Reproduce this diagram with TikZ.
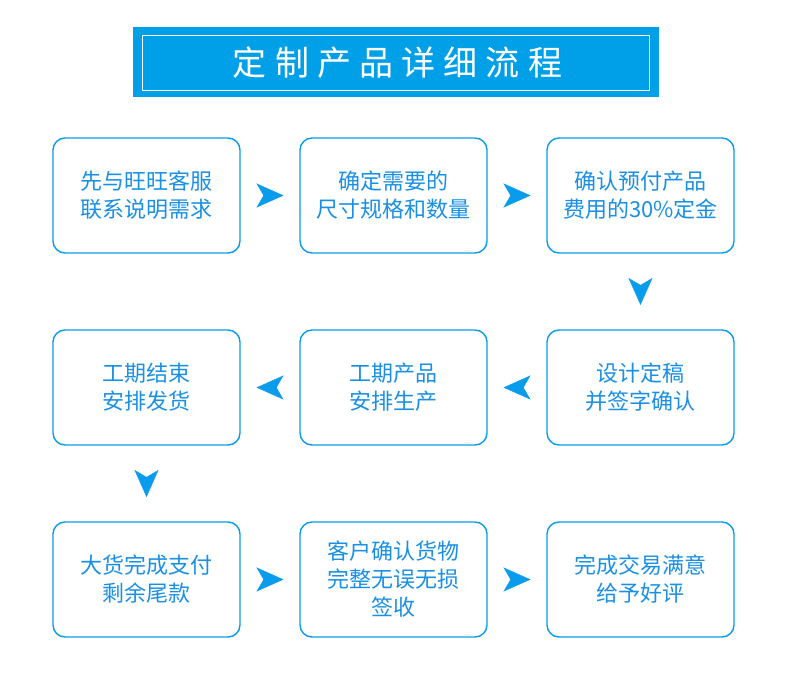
\documentclass[tikz,border=0pt]{standalone}
\usepackage{fontspec}
\setmainfont{Noto Sans CJK SC}
\usepackage{tikz}
\usepackage{xcolor}
\usetikzlibrary{positioning, arrows.meta}
\definecolor{accent}{HTML}{0A9CEC}
\definecolor{titlebg}{HTML}{00A0E9}
\definecolor{textmain}{HTML}{1A90E4}
\definecolor{bg}{HTML}{FFFFFF}

\begin{document}
\begin{tikzpicture}[
    x=1pt, y=1pt,
    stepbox/.style={rectangle, draw=accent, fill=bg, text=textmain, line width=1.4pt,
                  rounded corners=12pt, minimum width=187pt, minimum height=115pt,
                  align=center, font=\fontsize{22}{28}\selectfont, inner sep=0pt, outer sep=0pt},
    flow/.style={-{Stealth[length=27pt, width=24pt, inset=7pt]}, line width=0.4pt, accent},
    hflow/.style={flow, shorten <=23.5pt, shorten >=16.5pt},
    vflow/.style={flow, shorten <=32pt, shorten >=25pt},
    titlebar/.style={rectangle, fill=titlebg, text=white, minimum width=526pt,
                  minimum height=70pt, inner sep=0pt,
                  font=\fontsize{34}{40}\selectfont\addfontfeature{LetterSpace=24}}
  ]
    \useasboundingbox[fill=bg] (0,0) rectangle (790,-698);

    % title
    \node[titlebar] (title) at (395.5,-62.5) {\hspace{4pt}定制产品详细流程};
    \node[draw=white, line width=0.8pt, minimum width=507pt, minimum height=55pt] (titleframe) at (title) {};

    % row 1
    \node[stepbox] (a) at (146.5,-195.5) {先与旺旺客服\\联系说明需求};
    \node[stepbox, right=60pt of a] (b) {确定需要的\\尺寸规格和数量};
    \node[stepbox, right=60pt of b] (c) {确认预付产品\\费用的30\%定金};

    % row 2
    \node[stepbox, below=77pt of c] (f) {设计定稿\\并签字确认};
    \node[stepbox, left=60pt of f] (e) {工期产品\\安排生产};
    \node[stepbox, left=60pt of e] (d) {工期结束\\安排发货};

    % row 3
    \node[stepbox, below=77pt of d] (g) {大货完成支付\\剩余尾款};
    \node[stepbox, right=60pt of g] (h) {客户确认货物\\完整无误无损\\签收};
    \node[stepbox, right=60pt of h] (i) {完成交易满意\\给予好评};

    \draw[hflow] (a) -- (b);
    \draw[hflow] (b) -- (c);
    \draw[vflow] (c) -- (f);
    \draw[hflow] (f) -- (e);
    \draw[hflow] (e) -- (d);
    \draw[vflow] (d) -- (g);
    \draw[hflow] (g) -- (h);
    \draw[hflow] (h) -- (i);
  \end{tikzpicture}
\end{document}
